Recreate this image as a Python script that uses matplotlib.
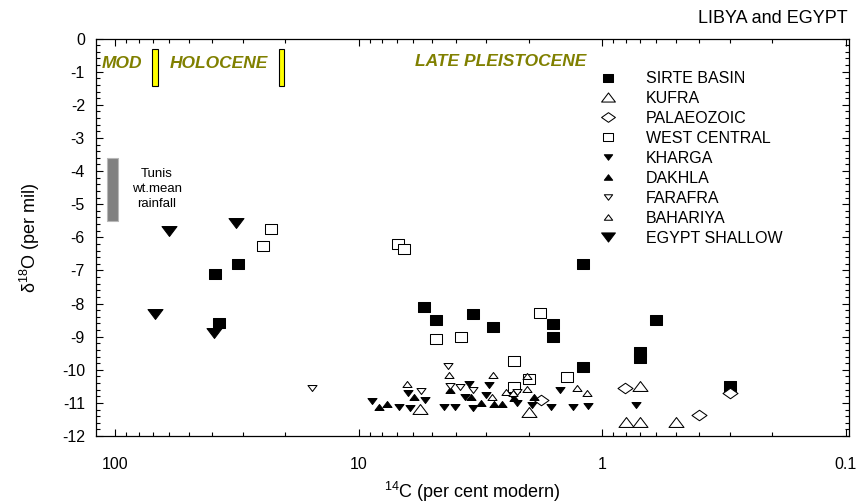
import matplotlib
matplotlib.use("Agg")
import matplotlib.pyplot as plt
from matplotlib.patches import Rectangle
from matplotlib.path import Path
from matplotlib.ticker import MultipleLocator, LogLocator, NullFormatter

plt.rcParams["font.family"] = ["Liberation Sans", "DejaVu Sans"]
plt.rcParams["mathtext.fontset"] = "custom"
plt.rcParams["mathtext.rm"] = "Liberation Sans"
plt.rcParams["axes.unicode_minus"] = False

OLIVE = "#808000"

# ---------------------------------------------------------------------------
# Data: 14C (per cent modern), d18O (per mil)
# ---------------------------------------------------------------------------
sirte_c14  = [39.1, 31.2, 37.5, 5.41, 4.80, 3.40, 2.80, 1.60, 1.60, 1.20, 1.20, 0.60, 0.70, 0.70, 0.30]
sirte_d18o = [-7.11, -6.81, -8.60, -8.10, -8.50, -8.31, -8.70, -8.61, -9.00, -6.80, -9.91, -8.50, -9.46, -9.65, -10.49]

kufra_c14  = [5.59, 2.00, 0.70, 0.80, 0.70, 0.50]
kufra_d18o = [-11.19, -11.28, -10.49, -11.58, -11.58, -11.58]

palaeo_c14  = [1.78, 0.807, 0.40, 0.30]
palaeo_d18o = [-10.91, -10.56, -11.37, -10.69]

westc_c14  = [24.7, 23.0, 6.90, 6.50, 4.80, 3.79, 1.80, 2.30, 2.00, 2.30, 1.40]
westc_d18o = [-6.26, -5.76, -6.20, -6.35, -9.08, -9.00, -8.30, -9.74, -10.27, -10.51, -10.21]

kharga_c14  = [8.81, 6.86, 6.30, 6.14, 5.33, 4.45, 4.03, 3.52, 3.65, 3.39, 2.93, 3.00,
               2.34, 2.23, 1.95, 1.63, 1.49, 1.32, 1.14, 0.73]
kharga_d18o = [-10.93, -11.12, -10.71, -11.16, -10.91, -11.13, -11.13, -10.43, -10.81, -11.16, -10.46, -10.76,
               -10.76, -10.99, -11.06, -11.13, -10.61, -11.12, -11.09, -11.07]

dakhla_c14  = [8.23, 7.68, 5.91, 4.22, 3.46, 3.15, 2.78, 2.59, 1.91, 2.30]
dakhla_d18o = [-11.13, -11.04, -10.83, -10.61, -10.81, -10.99, -11.03, -11.04, -10.81, -10.85]

farafra_c14  = [15.5, 5.55, 4.29, 4.22, 3.83, 3.39, 2.23]
farafra_d18o = [-10.56, -10.63, -9.89, -10.49, -10.53, -10.61, -10.66]

bahariya_c14  = [6.36, 4.25, 2.80, 2.85, 2.49, 2.04, 2.04, 1.27, 1.15, 2.32]
bahariya_d18o = [-10.43, -10.16, -10.16, -10.81, -10.68, -10.19, -10.59, -10.56, -10.69, -10.70]

egypt_c14  = [60.4, 31.8, 68.8, 39.4]
egypt_d18o = [-5.80, -5.56, -8.33, -8.90]

# period boundary bars (c14 range, d18o range)
mod_bar_c14  = (67.0, 70.5)
hol_bar_c14  = (20.3, 21.3)
bar_d18o     = (-1.42, -0.32)
tunis_c14    = (97.2, 107.8)
tunis_d18o   = (-5.50, -3.61)

xticks = [100, 10, 1, 0.1]
xtick_labels = ["100", "10", "1", "0.1"]


# squat marker shapes, wider than tall like the original
def shape(verts):
    return Path(verts + [verts[0]], closed=True)

UP   = shape([(-1, -0.66), (1, -0.66), (0, 0.66)])
DOWN = shape([(-1, 0.66), (1, 0.66), (0, -0.66)])
SQ   = shape([(-1, -0.8), (1, -0.8), (1, 0.8), (-1, 0.8)])
DIAM = shape([(-1, 0), (0, 0.7), (1, 0), (0, -0.7)])

# ---------------------------------------------------------------------------
# Plot
# ---------------------------------------------------------------------------
fig = plt.figure(figsize=(8.58, 5.04), dpi=100)
ax = fig.add_axes([0.1119, 0.1349, 0.8776, 0.7887])

series = [
    ("SIRTE BASIN",   sirte_c14,    sirte_d18o,    SQ,   8.6,  "black"),
    ("KUFRA",         kufra_c14,    kufra_d18o,    UP,   10.8, "white"),
    ("PALAEOZOIC",    palaeo_c14,   palaeo_d18o,   DIAM, 10.8, "white"),
    ("WEST CENTRAL",  westc_c14,    westc_d18o,    SQ,   8.6,  "white"),
    ("KHARGA",        kharga_c14,   kharga_d18o,   DOWN, 6.5,  "black"),
    ("DAKHLA",        dakhla_c14,   dakhla_d18o,   UP,   6.5,  "black"),
    ("FARAFRA",       farafra_c14,  farafra_d18o,  DOWN, 6.5,  "white"),
    ("BAHARIYA",      bahariya_c14, bahariya_d18o, UP,   6.5,  "white"),
    ("EGYPT SHALLOW", egypt_c14,    egypt_d18o,    DOWN, 10.8, "black"),
]
for label, xs, ys, mk, ms, fc in series:
    ax.plot(xs, ys, linestyle="none", marker=mk, markersize=ms,
            markerfacecolor=fc, markeredgecolor="black", markeredgewidth=0.75,
            label=label)

ax.set_xscale("log")
ax.set_xlim(120, 0.097)
ax.set_ylim(-12, 0)
ax.set_xticks(xticks)
ax.set_xticklabels(xtick_labels)
ax.xaxis.set_minor_locator(LogLocator(base=10, subs=range(2, 10)))
ax.xaxis.set_minor_formatter(NullFormatter())
ax.yaxis.set_major_locator(MultipleLocator(1))
ax.yaxis.set_minor_locator(MultipleLocator(0.2))
ax.tick_params(which="both", direction="in", top=True, right=True,
               width=0.8, labelsize=11.5)
ax.tick_params(axis="x", which="major", pad=15)
ax.tick_params(axis="y", which="major", pad=8)
ax.tick_params(which="major", length=5)
ax.tick_params(which="minor", length=3)
for s in ax.spines.values():
    s.set_linewidth(0.9)

# period bars and Tunis rainfall bar
for c0, c1 in (mod_bar_c14, hol_bar_c14):
    ax.add_patch(Rectangle((c0, bar_d18o[0]), c1 - c0, bar_d18o[1] - bar_d18o[0],
                           facecolor="#ffff00", edgecolor="black", linewidth=0.8, zorder=3))
ax.add_patch(Rectangle((tunis_c14[0], tunis_d18o[0]), tunis_c14[1] - tunis_c14[0],
                       tunis_d18o[1] - tunis_d18o[0],
                       facecolor="#808080", edgecolor="#b8b8b8", linewidth=0.8, zorder=3))
ax.text(67.7, -4.54, "Tunis\nwt.mean\nrainfall", ha="center", va="center",
        fontsize=9.5, linespacing=1.3)

period_kw = dict(color=OLIVE, fontsize=12.5, fontweight="bold", fontstyle="italic",
                 ha="center", va="center")
ax.text(93.9, -0.74, "MOD", **period_kw)
ax.text(37.4, -0.74, "HOLOCENE", **period_kw)
ax.text(2.61, -0.68, "LATE PLEISTOCENE", **period_kw)

ax.legend(loc="upper left", bbox_to_anchor=(0.664, 0.918), frameon=False,
          fontsize=11.5, handlelength=1.5, handletextpad=1.6, labelspacing=0.31,
          borderpad=0, borderaxespad=0, markerscale=0.92)

ax.set_xlabel(r"$^{14}$C (per cent modern)", fontsize=13, labelpad=6)
ax.set_ylabel(r"δ$^{18}$O (per mil)", fontsize=13, labelpad=14)
fig.text(0.988, 0.964, "LIBYA and EGYPT", ha="right", va="center", fontsize=13)

fig.savefig("out.png", dpi=100, facecolor="white")
